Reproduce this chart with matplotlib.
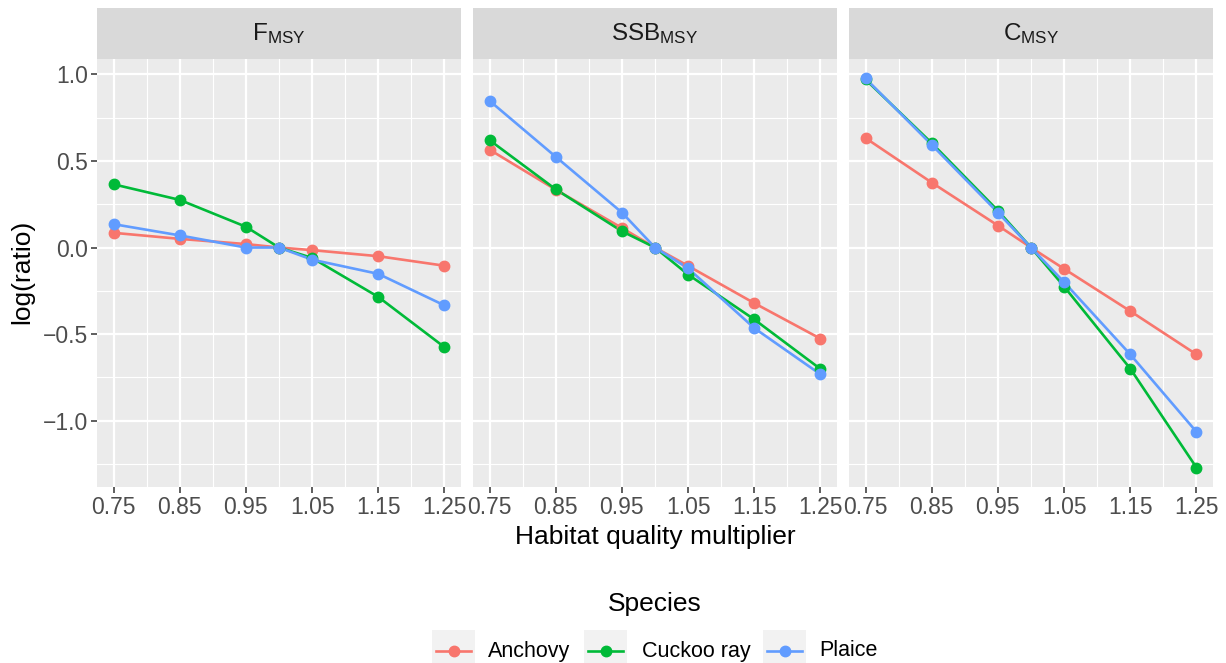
import numpy as np
import matplotlib
matplotlib.use('Agg')
import matplotlib.pyplot as plt
from matplotlib.lines import Line2D

plt.rcParams['font.family'] = ['Liberation Sans', 'DejaVu Sans']
plt.rcParams['axes.unicode_minus'] = True

# data
multiplier = [0.75, 0.85, 0.95, 1.0, 1.05, 1.15, 1.25]
species = ['Anchovy', 'Cuckoo ray', 'Plaice']
colors = ['#F8766D', '#00BA38', '#619CFF']
panels = [r'$\mathregular{F_{MSY}}$', r'$\mathregular{SSB_{MSY}}$', r'$\mathregular{C_{MSY}}$']

f_anchovy = [0.085, 0.05, 0.02, 0.0, -0.015, -0.05, -0.105]
f_cuckoo = [0.365, 0.275, 0.12, 0.0, -0.06, -0.285, -0.575]
f_plaice = [0.135, 0.07, 0.0, 0.0, -0.07, -0.152, -0.334]

ssb_anchovy = [0.565, 0.334, 0.113, 0.0, -0.106, -0.321, -0.526]
ssb_cuckoo = [0.62, 0.336, 0.094, 0.0, -0.156, -0.415, -0.701]
ssb_plaice = [0.847, 0.524, 0.202, 0.0, -0.12, -0.465, -0.732]

c_anchovy = [0.632, 0.375, 0.127, 0.0, -0.123, -0.367, -0.617]
c_cuckoo = [0.97, 0.603, 0.213, 0.0, -0.225, -0.699, -1.27]
c_plaice = [0.976, 0.593, 0.202, 0.0, -0.2, -0.617, -1.064]

panel_data = [[f_anchovy, f_cuckoo, f_plaice],
              [ssb_anchovy, ssb_cuckoo, ssb_plaice],
              [c_anchovy, c_cuckoo, c_plaice]]

x_breaks = [0.75, 0.85, 0.95, 1.05, 1.15, 1.25]
x_minor = [0.80, 0.90, 1.00, 1.10, 1.20]
y_breaks = [-1.0, -0.5, 0.0, 0.5, 1.0]
y_minor = [-1.25, -0.75, -0.25, 0.25, 0.75]

# ggplot-like limits (5% expansion)
all_y = np.concatenate([np.ravel(p) for p in panel_data])
ymin, ymax = all_y.min(), all_y.max()
ypad = 0.05 * (ymax - ymin)
xpad = 0.05 * (max(multiplier) - min(multiplier))

W, H = 1226, 663
fig = plt.figure(figsize=(W / 100, H / 100), dpi=100)

lefts = [97, 473, 849]
pw = 364
top, bottom = 59, 487
strip_top = 8

for i in range(3):
    ax = fig.add_axes([lefts[i] / W, 1 - bottom / H, pw / W, (bottom - top) / H])
    ax.set_facecolor('#EBEBEB')
    for s in ax.spines.values():
        s.set_visible(False)
    ax.set_xlim(min(multiplier) - xpad, max(multiplier) + xpad)
    ax.set_ylim(ymin - ypad, ymax + ypad)
    ax.set_xticks(x_breaks)
    ax.set_xticks(x_minor, minor=True)
    ax.set_yticks(y_breaks)
    ax.set_yticks(y_minor, minor=True)
    ax.set_xticklabels(['%.2f' % v for v in x_breaks])
    ax.grid(True, which='major', color='white', linewidth=1.6)
    ax.grid(True, which='minor', color='white', linewidth=0.8)
    ax.set_axisbelow(True)
    ax.tick_params(which='major', length=4.5, width=1.1, color='#333333',
                   labelsize=16.5, labelcolor='#4D4D4D', pad=2)
    ax.tick_params(which='minor', length=0)
    if i == 0:
        ax.set_yticklabels(['%.1f' % v if v >= 0 else '\u2212%.1f' % -v for v in y_breaks])
    else:
        ax.tick_params(axis='y', which='major', length=0, labelleft=False)

    for j in range(3):
        ax.plot(multiplier, panel_data[i][j], color=colors[j], linewidth=1.9, zorder=2)
    for j in range(3):
        ax.plot(multiplier, panel_data[i][j], 'o', color=colors[j], markersize=7.5, zorder=3)

    # strip
    sax = fig.add_axes([lefts[i] / W, 1 - top / H, pw / W, (top - strip_top) / H])
    sax.set_facecolor('#D9D9D9')
    sax.set_xticks([])
    sax.set_yticks([])
    for s in sax.spines.values():
        s.set_visible(False)
    sax.text(0.5, 0.5, panels[i], ha='center', va='center', fontsize=17.5,
             color='#1A1A1A', transform=sax.transAxes)

fig.text(655 / W, 1 - 537 / H, 'Habitat quality multiplier', ha='center', va='center',
         fontsize=19, color='black')
fig.text(22 / W, 1 - 272 / H, 'log(ratio)', ha='center', va='center', rotation=90,
         fontsize=19, color='black')

# legend
fig.text(655 / W, 1 - 604 / H, 'Species', ha='center', va='center', fontsize=19, color='black')
key_x = [432, 584, 763]
label_x = [488, 642, 819]
for j in range(3):
    kax = fig.add_axes([key_x[j] / W, 0, 43 / W, 33 / H])
    kax.set_facecolor('#F2F2F2')
    kax.set_xlim(0, 1)
    kax.set_ylim(0, 1)
    kax.set_xticks([])
    kax.set_yticks([])
    for s in kax.spines.values():
        s.set_visible(False)
    kax.add_line(Line2D([0.1, 0.9], [0.35, 0.35], color=colors[j], linewidth=1.9))
    kax.plot([0.5], [0.35], 'o', color=colors[j], markersize=7.5)
    fig.text(label_x[j] / W, 1 - 651 / H, species[j], ha='left', va='center',
             fontsize=15.5, color='black')

fig.savefig('out.png', dpi=100)
